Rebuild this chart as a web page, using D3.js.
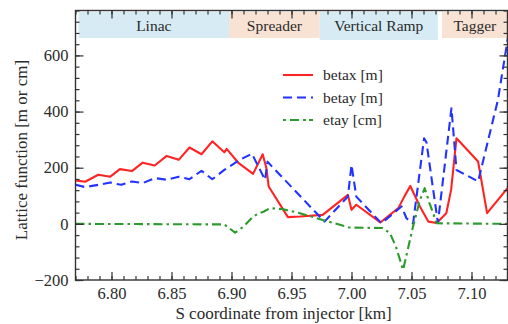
<!DOCTYPE html>
<html>
<head>
<meta charset="utf-8">
<script src="https://cdn.jsdelivr.net/npm/d3@7"></script>
<style>
  body { margin: 0; background: #fff; }
</style>
</head>
<body>
<div id="chart"></div>
<script>
// Lattice functions along the beamline, s in km
const betaxS = [6.770, 6.778, 6.789, 6.799, 6.807, 6.817, 6.826, 6.836, 6.846, 6.856, 6.865, 6.875, 6.884, 6.894, 6.896, 6.906, 6.918, 6.926, 6.929, 6.931, 6.947, 6.957, 6.976, 6.997, 7.000, 7.004, 7.024, 7.039, 7.044, 7.049, 7.057, 7.064, 7.071, 7.079, 7.083, 7.0875, 7.1055, 7.113, 7.130];
const betaxV = [155, 150, 175, 168, 195, 188, 218, 208, 242, 228, 272, 248, 294, 255, 267, 216, 178, 248, 200, 133, 24, 26, 32, 103, 50, 68, 5, 56, 97, 135, 62, 8, 3, 38, 121, 305, 222, 38, 127];

const betayS = [6.770, 6.778, 6.789, 6.799, 6.808, 6.817, 6.826, 6.836, 6.846, 6.856, 6.865, 6.875, 6.884, 6.894, 6.906, 6.917, 6.928, 6.930, 6.9775, 6.997, 7.000, 7.004, 7.025, 7.0417, 7.0458, 7.0513, 7.0605, 7.0625, 7.072, 7.0833, 7.0875, 7.1055, 7.122, 7.131];
const betayV = [139, 131, 139, 147, 139, 151, 145, 163, 157, 168, 159, 189, 159, 192, 226, 250, 157, 221, 8, 97, 210, 97, 2, 62, 20, 2, 305, 290, 3, 412, 192, 151, 441, 680];

const etayS = [6.770, 6.894, 6.903, 6.910, 6.918, 6.923, 6.927, 6.932, 6.943, 6.957, 6.976, 6.998, 7.026, 7.032, 7.037, 7.043, 7.051, 7.057, 7.061, 7.065, 7.071, 7.130];
const etayV = [0, -2, -31, -10, 26, 38, 44, 56, 52, 38, 14, -13, -15, -33, -81, -164, -15, 85, 127, 74, 2, 0];

const sections = ['Linac', 'Spreader', 'Vertical Ramp', 'Tagger'];
const sectionStart = [6.7725, 6.898, 6.9735, 7.0755];
const sectionEnd = [6.898, 6.9735, 7.072, 7.13];
const sectionColor = ['#d6ebf3', '#f8e2d3', '#d6ebf3', '#f8e2d3'];

const xMajor = [6.80, 6.85, 6.90, 6.95, 7.00, 7.05, 7.10];
const yMajor = [-200, 0, 200, 400, 600];

const width = 508, height = 324;
const plot = { left: 75.5, right: 507.5, top: 10.5, bottom: 280 };
const serif = '"Liberation Serif", "Times New Roman", serif';
const ink = '#2a2a2a';

const svg = d3.select('#chart').append('svg')
  .attr('width', width)
  .attr('height', height);

const x = d3.scaleLinear().domain([6.77, 7.13]).range([plot.left, plot.right]);
const y = d3.scaleLinear().domain([-200, 760]).range([plot.bottom, plot.top]);

svg.append('defs').append('clipPath').attr('id', 'plot')
  .append('rect')
  .attr('x', plot.left).attr('y', plot.top)
  .attr('width', plot.right - plot.left).attr('height', plot.bottom - plot.top);

// section header bands
const bands = svg.append('g');
sections.forEach((name, i) => {
  bands.append('rect')
    .attr('x', x(sectionStart[i]))
    .attr('y', 12)
    .attr('width', x(sectionEnd[i]) - x(sectionStart[i]))
    .attr('height', i === 2 ? 28 : 26)
    .attr('fill', sectionColor[i]);
  bands.append('text')
    .attr('x', (x(sectionStart[i]) + x(sectionEnd[i])) / 2)
    .attr('y', 31)
    .attr('text-anchor', 'middle')
    .attr('fill', ink)
    .attr('font-family', serif)
    .attr('font-size', 15.5)
    .text(name);
});

// curves
const curves = svg.append('g').attr('clip-path', 'url(#plot)');
const line = d3.line().x((d) => x(d[0])).y((d) => y(d[1]));

const series = [
  { s: betaxS, v: betaxV, color: '#ff2424', dash: null, label: 'betax [m]' },
  { s: betayS, v: betayV, color: '#2233ff', dash: '9,5', label: 'betay [m]' },
  { s: etayS, v: etayV, color: '#2c9a2c', dash: '9,4,2.5,4', label: 'etay [cm]' },
];

series.forEach((d) => {
  curves.append('path')
    .datum(d.s.map((s, i) => [s, d.v[i]]))
    .attr('d', line)
    .attr('fill', 'none')
    .attr('stroke', d.color)
    .attr('stroke-width', 2.1)
    .attr('stroke-linejoin', 'round')
    .attr('stroke-dasharray', d.dash);
});

// axes: major + minor ticks pointing inward on all sides
const xMinor = d3.range(6.77, 7.1301, 0.01).map((v) => +v.toFixed(2));
const yMinor = d3.range(-200, 761, 40);

function styleAxis(g) {
  g.attr('font-family', serif).attr('font-size', 16.5);
  g.select('.domain').remove();
  g.selectAll('line').attr('stroke', '#333').attr('stroke-width', 1.2);
  g.selectAll('text').attr('fill', ink);
}

svg.append('g')
  .attr('transform', `translate(0,${plot.bottom})`)
  .call(d3.axisBottom(x).tickValues(xMajor).tickSize(-8).tickPadding(7).tickFormat(d3.format('.2f')))
  .call(styleAxis);
svg.append('g')
  .attr('transform', `translate(0,${plot.bottom})`)
  .call(d3.axisBottom(x).tickValues(xMinor).tickSize(-4).tickFormat(''))
  .call(styleAxis);
svg.append('g')
  .attr('transform', `translate(0,${plot.top})`)
  .call(d3.axisTop(x).tickValues(xMajor).tickSize(-8).tickFormat(''))
  .call(styleAxis);
svg.append('g')
  .attr('transform', `translate(0,${plot.top})`)
  .call(d3.axisTop(x).tickValues(xMinor).tickSize(-4).tickFormat(''))
  .call(styleAxis);

svg.append('g')
  .attr('transform', `translate(${plot.left},0)`)
  .call(d3.axisLeft(y).tickValues(yMajor).tickSize(-8).tickPadding(7))
  .call(styleAxis);
svg.append('g')
  .attr('transform', `translate(${plot.left},0)`)
  .call(d3.axisLeft(y).tickValues(yMinor).tickSize(-4).tickFormat(''))
  .call(styleAxis);
svg.append('g')
  .attr('transform', `translate(${plot.right},0)`)
  .call(d3.axisRight(y).tickValues(yMajor).tickSize(-8).tickFormat(''))
  .call(styleAxis);
svg.append('g')
  .attr('transform', `translate(${plot.right},0)`)
  .call(d3.axisRight(y).tickValues(yMinor).tickSize(-4).tickFormat(''))
  .call(styleAxis);

// frame
svg.append('rect')
  .attr('x', plot.left).attr('y', plot.top)
  .attr('width', plot.right - plot.left).attr('height', plot.bottom - plot.top)
  .attr('fill', 'none')
  .attr('stroke', '#333')
  .attr('stroke-width', 1.4);

// axis titles
svg.append('text')
  .attr('x', (plot.left + plot.right) / 2 - 8)
  .attr('y', 319)
  .attr('text-anchor', 'middle')
  .attr('fill', ink)
  .attr('font-family', serif)
  .attr('font-size', 17)
  .text('S coordinate from injector [km]');

svg.append('text')
  .attr('transform', 'translate(27,150) rotate(-90)')
  .attr('text-anchor', 'middle')
  .attr('fill', ink)
  .attr('font-family', serif)
  .attr('font-size', 17)
  .text('Lattice function [m or cm]');

// legend
const legend = svg.append('g');
series.forEach((d, i) => {
  const ly = 75 + i * 22.5;
  legend.append('line')
    .attr('x1', 283).attr('x2', 313)
    .attr('y1', ly).attr('y2', ly)
    .attr('stroke', d.color)
    .attr('stroke-width', 2.1)
    .attr('stroke-dasharray', i === 1 ? '9,5' : i === 2 ? '3,4,9,4,3' : null);
  legend.append('text')
    .attr('x', 323)
    .attr('y', ly + 5)
    .attr('fill', ink)
    .attr('font-family', serif)
    .attr('font-size', 15.5)
    .text(d.label);
});
</script>
</body>
</html>
